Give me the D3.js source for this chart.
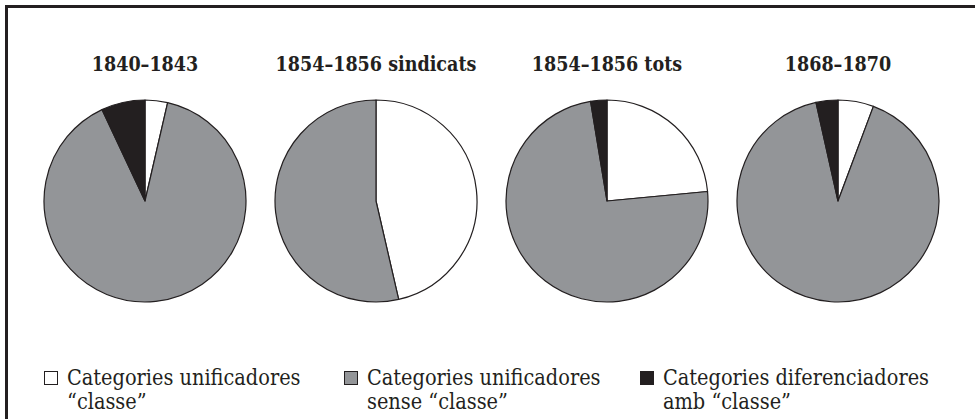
<!DOCTYPE html>
<meta charset="utf-8">
<head>
    <title>Categories de classe</title>
</head>
<script src="https://d3js.org/d3.v7.min.js"></script>
<style>
    body { margin: 0; background: #fff; }
    .title {
        font-family: "DejaVu Serif", "Liberation Serif", serif;
        font-stretch: condensed;
        font-weight: bold;
        font-size: 19.5px;
        fill: #231f20;
        text-anchor: middle;
    }
    .legend text {
        font-family: "DejaVu Serif", "Liberation Serif", serif;
        font-stretch: condensed;
        font-size: 21.5px;
        fill: #231f20;
    }
    .slice {
        stroke: #231f20;
        stroke-width: 1.2px;
        stroke-linejoin: round;
    }
</style>
<div id="viz"></div>
<script>

// periods (one pie each)
var periods = ['1840–1843', '1854–1856 sindicats', '1854–1856 tots', '1868–1870'];
// shares in %
var unificadoresClasse = [3.6, 46.4, 23.5, 5.7];
var unificadoresSense  = [89.4, 53.6, 73.9, 90.8];
var diferenciadores    = [7.0, 0, 2.6, 3.5];

var categories = ['unificadores_classe', 'unificadores_sense', 'diferenciadores'];
var legendLabels = [
    ['Categories unificadores', '“classe”'],
    ['Categories unificadores', 'sense “classe”'],
    ['Categories diferenciadores', 'amb “classe”']
];
var colours = ['#ffffff', '#939598', '#231f20'];

var width = 975, height = 419;

var root = d3.select('#viz')
    .append('svg')
        .attr('width', width)
        .attr('height', height);

// frame: only top and left edges fall inside the picture
root.append('path')
    .attr('d', 'M6.5,' + (height + 5) + ' V6.5 H' + (width + 5))
    .attr('fill', 'none')
    .attr('stroke', '#231f20')
    .attr('stroke-width', 3);

var x = d3.scalePoint()
    .domain(periods)
    .range([145, 838]);

var color = d3.scaleOrdinal()
    .domain(categories)
    .range(colours);

var radius = 101, cy = 201;

var pie = d3.pie()
    .sort(null)
    .value(function(d) { return d.value; });

var arc = d3.arc()
    .innerRadius(0)
    .outerRadius(radius);

periods.forEach(function(p, i) {
    var rows = [
        {key: categories[0], value: unificadoresClasse[i]},
        {key: categories[1], value: unificadoresSense[i]},
        {key: categories[2], value: diferenciadores[i]}
    ].filter(function(d) { return d.value > 0; });

    var g = root.append('g')
        .attr('transform', 'translate(' + x(p) + ',' + cy + ')');

    g.selectAll('path')
        .data(pie(rows))
        .enter()
        .append('path')
        .attr('class', 'slice')
        .attr('fill', function(d) { return color(d.data.key); })
        .attr('d', arc);

    root.append('text')
        .attr('class', 'title')
        .attr('x', x(p))
        .attr('y', 71)
        .text(p);
});

// legend
var legendX = d3.scaleOrdinal()
    .domain(categories)
    .range([44, 344, 640]);

var legend = root.append('g')
    .attr('class', 'legend');

categories.forEach(function(c, i) {
    var lg = legend.append('g')
        .attr('transform', 'translate(' + legendX(c) + ',0)');
    lg.append('rect')
        .attr('x', 0.5)
        .attr('y', 371.5)
        .attr('width', 13)
        .attr('height', 13)
        .attr('fill', color(c))
        .attr('stroke', '#231f20')
        .attr('stroke-width', 1);
    var t = lg.append('text')
        .attr('x', 23)
        .attr('y', 385);
    t.append('tspan')
        .attr('x', 23)
        .text(legendLabels[i][0]);
    t.append('tspan')
        .attr('x', 23)
        .attr('dy', 24)
        .text(legendLabels[i][1]);
});

</script>
